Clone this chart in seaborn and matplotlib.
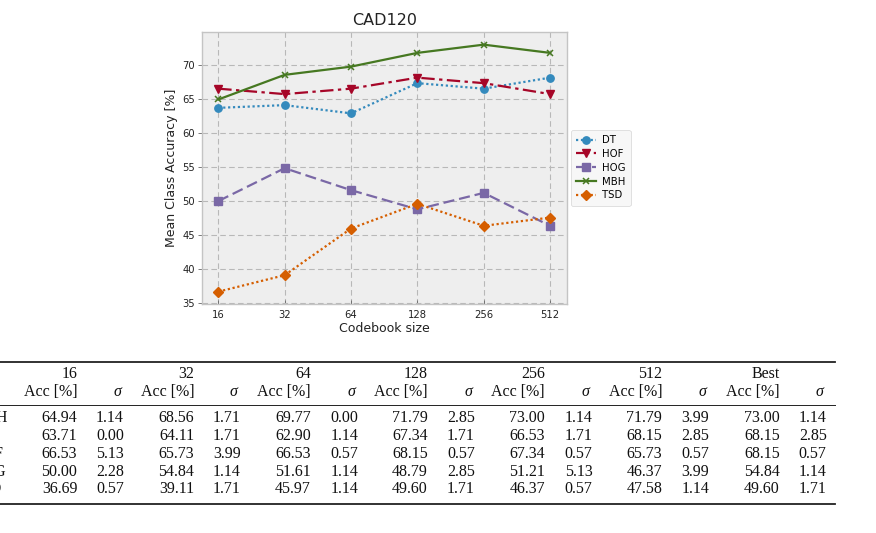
import matplotlib
matplotlib.use("Agg")
import matplotlib.pyplot as plt
from matplotlib.lines import Line2D
import seaborn as sns
import pandas as pd
import numpy as np

# ---------------- data ----------------
codebook_sizes = ["16", "32", "64", "128", "256", "512"]
methods = ["DT", "HOF", "HOG", "MBH", "TSD"]

acc_DT = [63.71, 64.11, 62.90, 67.34, 66.53, 68.15]
acc_HOF = [66.53, 65.73, 66.53, 68.15, 67.34, 65.73]
acc_HOG = [50.00, 54.84, 51.61, 48.79, 51.21, 46.37]
acc_MBH = [64.94, 68.56, 69.77, 71.79, 73.00, 71.79]
acc_TSD = [36.69, 39.11, 45.97, 49.60, 46.37, 47.58]

sd_DT = [0.00, 1.71, 1.14, 1.71, 1.71, 2.85]
sd_HOF = [5.13, 3.99, 0.57, 0.57, 0.57, 0.57]
sd_HOG = [2.28, 1.14, 1.14, 2.85, 5.13, 3.99]
sd_MBH = [1.14, 1.71, 0.00, 2.85, 1.14, 3.99]
sd_TSD = [0.57, 1.71, 1.14, 1.71, 0.57, 1.14]

table_rows = ["MBH", "DT", "HOF", "HOG", "TSD"]
table_cols = codebook_sizes + ["Best"]

acc = {"DT": acc_DT, "HOF": acc_HOF, "HOG": acc_HOG, "MBH": acc_MBH, "TSD": acc_TSD}
sd = {"DT": sd_DT, "HOF": sd_HOF, "HOG": sd_HOG, "MBH": sd_MBH, "TSD": sd_TSD}

df = pd.DataFrame(
    [(m, s, a) for m in methods for s, a in zip(codebook_sizes, acc[m])],
    columns=["method", "size", "acc"],
)

# ---------------- style ----------------
plt.style.use("bmh")
plt.rcParams["font.family"] = ["DejaVu Sans"]

colors = {"DT": "#348ABD", "HOF": "#A60628", "HOG": "#7A68A6",
          "MBH": "#467821", "TSD": "#D55E00"}
markers = {"DT": "o", "HOF": "v", "HOG": "s", "MBH": "x", "TSD": "D"}
dashes = {"DT": (1, 1.2), "HOF": (6, 2, 1.5, 2), "HOG": (5, 2.2),
          "MBH": None, "TSD": (1, 1.2)}

W, H = 876, 533
fig = plt.figure(figsize=(W / 100, H / 100), dpi=100)
fig.patch.set_facecolor("white")

ax = fig.add_axes([201.7 / W, 1 - 304 / H, 365 / W, 271.7 / H])
for m in methods:
    sub = df[df["method"] == m]
    kw = dict(color=colors[m], marker=markers[m], linewidth=1.6,
              markersize=5.3 if m != "MBH" else 5.0,
              markeredgewidth=1.0 if m != "MBH" else 1.1,
              markeredgecolor=colors[m], label=m, sort=False, ax=ax)
    if dashes[m] is None:
        kw["linestyle"] = "-"
    else:
        kw["linestyle"] = (0, dashes[m])
    sns.lineplot(data=sub, x="size", y="acc", **kw)

ax.set_facecolor("#eeeeee")
for sp in ax.spines.values():
    sp.set_color("#c4c4c4")
    sp.set_linewidth(1.0)
ax.grid(True, color="#b8b8b8", linestyle=(0, (5, 3)), linewidth=0.8)
ax.set_axisbelow(True)
ax.set_yticks([35, 40, 45, 50, 55, 60, 65, 70])
ax.tick_params(axis="y", direction="out", length=3, width=0.6, pad=2,
               colors="#666666", labelcolor="#222222", labelsize=7.2)
ax.tick_params(axis="x", direction="in", length=3, width=0.6, pad=4,
               colors="#666666", labelcolor="#222222", labelsize=7.2)
ax.set_title("CAD120", fontsize=11.5, color="#222222", pad=5)
ax.set_xlabel("Codebook size", fontsize=9, color="#222222", labelpad=1.5)
ax.set_ylabel("Mean Class Accuracy [%]", fontsize=9, color="#222222", labelpad=3)
ax.margins(x=0.05, y=0.05)

h, l = ax.get_legend_handles_labels()
ax.legend(h, l, loc="upper left", bbox_to_anchor=(570.5 / W, 1 - 130 / H),
          bbox_transform=fig.transFigure, fontsize=7.3, frameon=True,
          fancybox=True, facecolor="#f6f6f6", edgecolor="#cccccc",
          handlelength=2.0, borderpad=0.5, labelspacing=0.38,
          handletextpad=0.6, borderaxespad=0)

# ---------------- table ----------------
serif = ["Liberation Serif", "DejaVu Serif"]
fs = 11.5

def fx(px):
    return px / W

def fy(py):
    return 1 - py / H

acc_right = [77.3, 194.2, 311.0, 427.8, 545.0, 662.3, 780.0]
sd_right = [124.0, 240.8, 358.3, 475.0, 592.7, 709.3, 826.7]

# rules
fig.add_artist(Line2D([0, fx(835)], [fy(361.5)] * 2, transform=fig.transFigure,
                      color="#222222", linewidth=1.3))
fig.add_artist(Line2D([0, fx(835)], [fy(405)] * 2, transform=fig.transFigure,
                      color="#222222", linewidth=0.7))
fig.add_artist(Line2D([0, fx(835)], [fy(503.5)] * 2, transform=fig.transFigure,
                      color="#222222", linewidth=1.3))

for j, c in enumerate(table_cols):
    fig.text(fx(acc_right[j]), fy(374), c, ha="right", va="center",
             family=serif, fontsize=fs, color="#111111")
    fig.text(fx(acc_right[j]), fy(391.5), "Acc [%]", ha="right", va="center",
             family=serif, fontsize=fs, color="#111111")
    fig.text(fx(sd_right[j] - 3), fy(392.5), "σ", ha="right", va="center",
             family=serif, style="italic", fontsize=fs, color="#111111")

row_y = [418.3, 436.0, 453.7, 471.5, 489.0]
for i, m in enumerate(table_rows):
    y = fy(row_y[i])
    fig.text(fx(-28), y, m, ha="left", va="center", family=serif,
             fontsize=fs, color="#111111")
    a_vals = acc[m]
    s_vals = sd[m]
    best = int(np.argmax(a_vals))
    a_all = list(a_vals) + [a_vals[best]]
    s_all = list(s_vals) + [s_vals[best]]
    for j in range(len(table_cols)):
        fig.text(fx(acc_right[j]), y, f"{a_all[j]:.2f}", ha="right",
                 va="center", family=serif, fontsize=fs, color="#111111")
        fig.text(fx(sd_right[j]), y, f"{s_all[j]:.2f}", ha="right",
                 va="center", family=serif, fontsize=fs, color="#111111")

fig.savefig("out.png", dpi=100, facecolor="white")
